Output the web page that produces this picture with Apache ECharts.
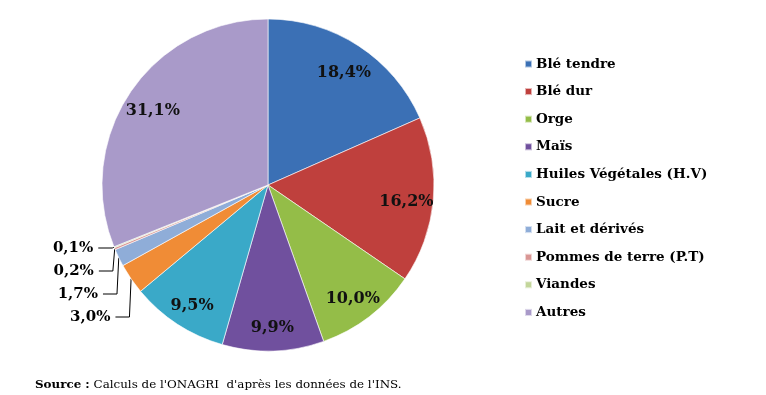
<!DOCTYPE html>
<html>
<head>
<meta charset="utf-8">
<script src="https://cdn.jsdelivr.net/npm/echarts@6/dist/echarts.min.js"></script>
<style>
html,body{margin:0;padding:0;background:#fff;}
#chart{width:766px;height:395px;}
</style>
</head>
<body>
<div id="chart"></div>
<script>
const categories = ["Blé tendre","Blé dur","Orge","Maïs","Huiles Végétales (H.V)","Sucre","Lait et dérivés","Pommes de terre (P.T)","Viandes","Autres"];
const values = [18.4, 16.2, 10.0, 9.9, 9.5, 3.0, 1.7, 0.2, 0.1, 31.1];
const colors = ["#3b70b5","#bf403d","#94bd48","#70509e","#3aa9c8","#f08c36","#8fadd8","#d99694","#c3d69b","#a99ac9"];
const sourceBold = "Source :";
const sourceText = " Calculs de l'ONAGRI  d'après les données de l'INS.";

const fmt = v => v.toFixed(1).replace('.', ',') + '%';
const serif = '"DejaVu Serif", "Liberation Serif", serif';
const isSmall = v => v < 5;

const data = categories.map((name, i) => ({
  name, value: values[i],
  itemStyle: {color: colors[i]},
  label: {show: isSmall(values[i])},
  labelLine: {show: isSmall(values[i])}
}));

const chart = echarts.init(document.getElementById('chart'));
chart.setOption({
  animation: false,
  color: colors,
  title: {
    left: 30, top: 374,
    text: '{b|' + sourceBold + '}{n|' + sourceText + '}',
    textStyle: {
      rich: {
        b: {fontFamily: serif, fontWeight: 'bold', fontSize: 11.9, color: '#000'},
        n: {fontFamily: serif, fontWeight: 'normal', fontSize: 11.9, color: '#000'}
      }
    }
  },
  legend: {
    orient: 'vertical',
    left: 519, top: 51,
    icon: 'rect',
    itemWidth: 7, itemHeight: 7,
    itemGap: 11.6,
    data: categories,
    textStyle: {fontFamily: serif, fontWeight: 'bold', fontSize: 13.5, color: '#000', lineHeight: 16, padding: [0,0,0,-1]}
  },
  series: [
    {
      type: 'pie',
      name: 'main',
      center: [268, 185],
      radius: 166,
      startAngle: 90,
      clockwise: true,
      data: data,
      itemStyle: {borderColor: 'rgba(255,255,255,0.6)', borderWidth: 1},
      emphasis: {disabled: true},
      label: {
        position: 'outside',
        alignTo: 'labelLine',
        formatter: p => fmt(p.value),
        fontFamily: serif, fontWeight: 'bold', fontSize: 15, color: '#000',
        lineHeight: 21
      },
      labelLine: {
        length: 2, length2: 14,
        lineStyle: {color: '#000', width: 1}
      }
    },
    {
      type: 'pie',
      name: 'labels',
      center: [268, 185],
      radius: [106, 166],
      startAngle: 90,
      clockwise: true,
      silent: true,
      data: categories.map((name, i) => ({name, value: values[i]})),
      itemStyle: {color: 'rgba(0,0,0,0)'},
      emphasis: {disabled: true},
      label: {
        show: true, position: 'inside',
        formatter: p => isSmall(p.value) ? '' : fmt(p.value),
        offset: [0, 4],
        fontFamily: serif, fontWeight: 'bold', fontSize: 16, color: '#111'
      },
      labelLine: {show: false}
    }
  ]
});
</script>
</body>
</html>
